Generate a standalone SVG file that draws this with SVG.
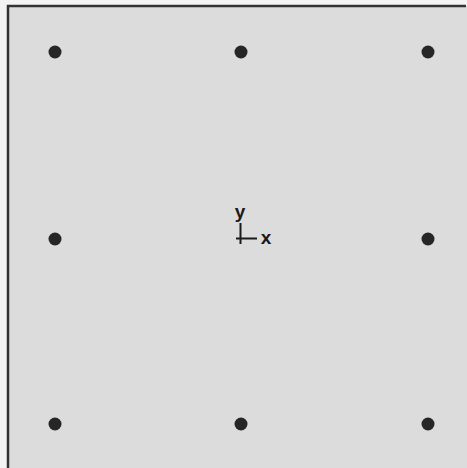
<svg xmlns="http://www.w3.org/2000/svg" width="467" height="468" viewBox="0 0 467 468">
<style>
.dot{fill:#262626}
.lbl{font-family:"Liberation Sans",Arial,sans-serif;font-weight:bold;font-size:19px;fill:#1a1a1a}
.ax{stroke:#1a1a1a;stroke-width:2;fill:none}
</style>
<rect x="0" y="0" width="467" height="468" fill="#f4f4f4"/>
<rect x="8" y="6" width="459" height="462" fill="#dcdcdc"/>
<g id="frame"><path d="M8,468 V6 H466" stroke="#333" stroke-width="2.5" fill="none"/></g>
<g id="dots">
<circle id="d1" class="dot" cx="55" cy="52" r="6.5"/>
<circle id="d2" class="dot" cx="241" cy="52" r="6.5"/>
<circle id="d3" class="dot" cx="428" cy="52" r="6.5"/>
<circle id="d4" class="dot" cx="55" cy="239" r="6.5"/>
<circle id="d5" class="dot" cx="428" cy="239" r="6.5"/>
<circle id="d6" class="dot" cx="55" cy="424" r="6.5"/>
<circle id="d7" class="dot" cx="241" cy="424" r="6.5"/>
<circle id="d8" class="dot" cx="428" cy="424" r="6.5"/>
</g>
<g id="axes">
<path class="ax" d="M240.5,223 V244 M236,238.5 H257"/>
<text class="lbl" x="240" y="218" text-anchor="middle">y</text>
<text class="lbl" x="266" y="244" text-anchor="middle">x</text>
</g>
</svg>
